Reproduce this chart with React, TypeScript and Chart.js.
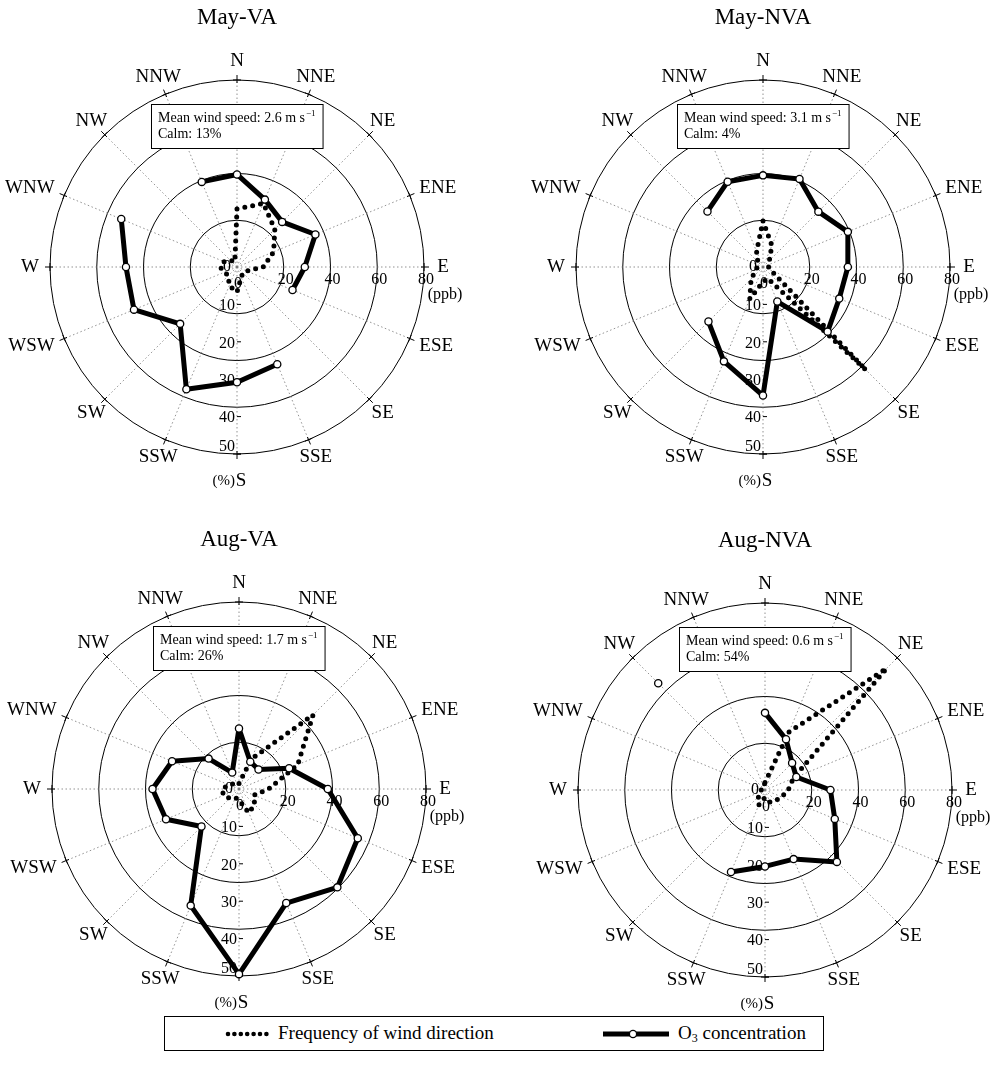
import React, { useEffect, useRef } from 'react';
import { Chart, registerables } from 'chart.js';

Chart.register(...registerables);

// ---------- data ----------
const DIRECTIONS = ['N', 'NNE', 'NE', 'ENE', 'E', 'ESE', 'SE', 'SSE', 'S', 'SSW', 'SW', 'WSW', 'W', 'WNW', 'NW', 'NNW'];
const PPB_TICKS = [0, 20, 40, 60, 80];
const FREQ_TICKS = [0, 10, 20, 30, 40, 50];

// O3 concentration (ppb), null = no data
const MAY_VA_O3 = [39.6, 31.2, 27.3, 36.3, 29, 25.7, null, 45, 49.3, 56.6, 34.4, 47.7, 47.5, 53.6, null, 39.4];
const MAY_NVA_O3 = [39.2, 40.8, 33.5, 39.3, 36.3, 35.3, 39.1, 16, 55, 43.7, 33, null, null, null, 33.6, 39.5];
const AUG_VA_O3 = [25.9, 12.6, 11.8, 23.2, 38, 55, 59.5, 52.8, 79.2, 54, 22.7, 33.8, 37, 31, 18.4, 7.6];
const AUG_NVA_O3 = [33, 23.5, 16.4, 14.5, 28, 32.3, 43.5, 32, 32.7, 38, null, null, null, null, 64.6, null];

// frequency of wind direction (%)
const MAY_VA_FREQ = [15.5, 18.4, 14.3, 10.6, 7, 2.8, 2.2, 3, 6.7, 5.4, 3.3, 3.6, 4.5, 3.7, 2.5, 1.5];
const MAY_NVA_FREQ = [12.3, 6.2, 2.4, 1.5, 1.5, 2.3, 39, 3.3, 4, 9.2, 4.5, 2, 1.5, 1.5, 2, 4.5];
const AUG_VA_FREQ = [1.5, 8.7, 28, 17, 7.9, 4.3, 5.9, 6.9, 3, 2.5, 3.5, 4.5, 4.5, 3, 2, 1.5];
const AUG_NVA_FREQ = [2, 16.8, 46, 8.2, 6.2, 4.8, 4, 3.5, 2, 4.3, 2.5, 1, 1, 0.5, 0.5, 1];

const TITLES = ['May-VA', 'May-NVA', 'Aug-VA', 'Aug-NVA'];
const WIND_SPEEDS = ['2.6', '3.1', '1.7', '0.6'];
const CALMS = ['13%', '4%', '26%', '54%'];
const O3_SERIES = [MAY_VA_O3, MAY_NVA_O3, AUG_VA_O3, AUG_NVA_O3];
const FREQ_SERIES = [MAY_VA_FREQ, MAY_NVA_FREQ, AUG_VA_FREQ, AUG_NVA_FREQ];

// ---------- layout ----------
const SERIF = '"Liberation Serif", "Times New Roman", Times, serif';
const CW = 470;
const CH = 510;
const PANEL_POS = [
  { left: 2, top: 2 },
  { left: 528, top: 2 },
  { left: 4, top: 524 },
  { left: 530, top: 525 },
];

const decorPlugin = {
  id: 'roseDecor',
  beforeDatasetsDraw(chart: any, _args: any, opts: any) {
    const ctx = chart.ctx;
    const r = chart.scales.r;
    const f = chart.scales.f;
    const cx = r.xCenter;
    const cy = r.yCenter;
    const R = r.drawingArea;
    ctx.save();
    ctx.strokeStyle = '#000';
    ctx.lineWidth = 1;
    // crosses at the outer ring
    DIRECTIONS.forEach((_d, i) => {
      const a = (i * Math.PI) / 8;
      const s = Math.sin(a);
      const c = Math.cos(a);
      const px = cx + s * R;
      const py = cy - c * R;
      ctx.beginPath();
      ctx.moveTo(cx + s * (R - 3), cy - c * (R - 3));
      ctx.lineTo(cx + s * (R + 5), cy - c * (R + 5));
      ctx.moveTo(px - c * 4, py - s * 4);
      ctx.lineTo(px + c * 4, py + s * 4);
      ctx.stroke();
    });
    // ppb tick labels along E axis
    ctx.fillStyle = '#000';
    ctx.font = `16px ${SERIF}`;
    ctx.textAlign = 'center';
    ctx.textBaseline = 'middle';
    PPB_TICKS.forEach((v) => {
      const d = r.getDistanceFromCenterForValue(v);
      if (v === 0) ctx.fillText('0', cx + 1, cy + 17);
      else ctx.fillText(String(v), cx + d + 2, cy + 13);
    });
    ctx.fillText('(ppb)', cx + R + 21, cy + 28);
    // frequency tick labels along S axis
    ctx.textAlign = 'right';
    FREQ_TICKS.forEach((v) => {
      const d = f.getDistanceFromCenterForValue(v);
      if (v === 0) {
        ctx.fillText('0', cx - 6, cy);
        return;
      }
      const y = v === 50 ? cy + d - 7 : cy + d + 1.5;
      ctx.fillText(String(v), cx - 2, y);
      ctx.beginPath();
      ctx.moveTo(cx, cy + d);
      ctx.lineTo(cx + 4, cy + d);
      ctx.stroke();
    });
    ctx.font = `15px ${SERIF}`;
    ctx.fillText('(%)', cx - 2, cy + R + 27);
    // annotation box
    const line1 = `Mean wind speed: ${opts.wind} m s`;
    const line2 = `Calm: ${opts.calm}`;
    ctx.font = `14px ${SERIF}`;
    const w1 = ctx.measureText(line1).width;
    ctx.font = `9px ${SERIF}`;
    const wSup = ctx.measureText('−1').width;
    const bx = cx - 86;
    const by = cy - 163;
    const bw = w1 + wSup + 15;
    const bh = 44;
    ctx.fillStyle = '#fff';
    ctx.fillRect(bx, by, bw, bh);
    ctx.strokeRect(bx + 0.5, by + 0.5, bw, bh);
    ctx.fillStyle = '#000';
    ctx.textAlign = 'left';
    ctx.textBaseline = 'alphabetic';
    ctx.font = `14px ${SERIF}`;
    ctx.fillText(line1, bx + 7, by + 18);
    ctx.fillText(line2, bx + 7, by + 34);
    ctx.font = `9px ${SERIF}`;
    ctx.fillText('−1', bx + 8 + w1, by + 12);
    ctx.restore();
  },
  afterDatasetsDraw(chart: any, _args: any, opts: any) {
    const ctx = chart.ctx;
    const r = chart.scales.r;
    const cx = r.xCenter;
    const cy = r.yCenter;
    const R = r.drawingArea;
    ctx.save();
    ctx.fillStyle = '#000';
    ctx.textAlign = 'center';
    ctx.textBaseline = 'middle';
    ctx.font = `19px ${SERIF}`;
    DIRECTIONS.forEach((lab, i) => {
      const a = (i * Math.PI) / 8;
      const s = Math.sin(a);
      const c = Math.cos(a);
      const w = ctx.measureText(lab).width;
      let x = cx + s * (R + 19);
      let y = cy - c * (R + 19);
      if (Math.abs(s) > 0.9) x += Math.sign(s) * Math.max(0, w / 2 - 8);
      if (lab === 'S') {
        x = cx + 4;
        y = cy + R + 27;
      }
      ctx.fillText(lab, x, y);
    });
    ctx.font = `23px ${SERIF}`;
    ctx.fillText(opts.title, cx, cy - 249);
    ctx.restore();
  },
};

function RosePanel({ index }: { index: number }) {
  const ref = useRef<HTMLCanvasElement | null>(null);
  useEffect(() => {
    const chart = new Chart(ref.current as HTMLCanvasElement, {
      type: 'radar',
      data: {
        labels: DIRECTIONS,
        datasets: [
          {
            label: 'O3 concentration',
            data: O3_SERIES[index],
            rAxisID: 'r',
            borderColor: '#000',
            borderWidth: 5,
            borderJoinStyle: 'round',
            pointRadius: 3.6,
            pointBorderWidth: 1.3,
            pointBackgroundColor: '#fff',
            pointBorderColor: '#000',
            fill: false,
            spanGaps: false,
          } as any,
          {
            label: 'Frequency of wind direction',
            data: FREQ_SERIES[index],
            rAxisID: 'f',
            borderColor: '#000',
            borderWidth: 5,
            borderDash: [0, 8],
            borderCapStyle: 'round',
            borderJoinStyle: 'round',
            pointRadius: 0,
            fill: false,
          } as any,
        ],
      },
      options: {
        responsive: false,
        animation: false,
        devicePixelRatio: 1,
        events: [],
        layout: { padding: { left: 48, right: 47, top: 78, bottom: 57 } },
        scales: {
          r: {
            type: 'radialLinear',
            axis: 'r',
            min: 0,
            max: 80,
            ticks: { display: false, stepSize: 20 },
            grid: { color: '#000', lineWidth: 1, circular: true },
            angleLines: { color: '#777', lineWidth: 0.8, borderDash: [1.5, 2.5] },
            pointLabels: { display: false },
          },
          f: {
            type: 'radialLinear',
            axis: 'r',
            min: 0,
            max: 50,
            display: false,
            ticks: { display: false },
            pointLabels: { display: false },
          },
        } as any,
        plugins: {
          legend: { display: false },
          tooltip: { enabled: false },
          roseDecor: { title: TITLES[index], wind: WIND_SPEEDS[index], calm: CALMS[index] },
        } as any,
      },
      plugins: [decorPlugin],
    });
    return () => chart.destroy();
  }, [index]);
  const pos = PANEL_POS[index];
  return (
    <canvas
      ref={ref}
      width={CW}
      height={CH}
      style={{ position: 'absolute', left: pos.left, top: pos.top, width: CW, height: CH }}
    />
  );
}

export default function App() {
  useEffect(() => {
    document.body.style.margin = '0';
  }, []);
  return (
    <div
      style={{
        position: 'relative',
        width: 995,
        height: 1076,
        overflow: 'hidden',
        background: '#fff',
        fontFamily: SERIF,
      }}
    >
      {TITLES.map((_t, i) => (
        <RosePanel key={i} index={i} />
      ))}
      <div
        style={{
          position: 'absolute',
          left: 164,
          top: 1016,
          width: 660,
          height: 35,
          boxSizing: 'border-box',
          border: '1px solid #000',
          background: '#fff',
          fontFamily: SERIF,
          fontSize: 19,
          zIndex: 2,
        }}
      >
        <svg width={60} height={20} style={{ position: 'absolute', left: 58, top: 7 }}>
          <line x1={5} y1={10} x2={45} y2={10} stroke="#000" strokeWidth={4.6} strokeLinecap="round" strokeDasharray="0 6.4" />
        </svg>
        <span style={{ position: 'absolute', left: 113, top: 5, lineHeight: '22px', whiteSpace: 'nowrap' }}>
          Frequency of wind direction
        </span>
        <svg width={80} height={20} style={{ position: 'absolute', left: 434, top: 7 }}>
          <line x1={4} y1={10} x2={70} y2={10} stroke="#000" strokeWidth={5} />
          <circle cx={34} cy={10} r={3.6} fill="#fff" stroke="#000" strokeWidth={1.3} />
        </svg>
        <span style={{ position: 'absolute', left: 513, top: 5, lineHeight: '22px', whiteSpace: 'nowrap' }}>
          O<sub style={{ fontSize: 12, verticalAlign: -3 }}>3</sub> concentration
        </span>
      </div>
    </div>
  );
}
